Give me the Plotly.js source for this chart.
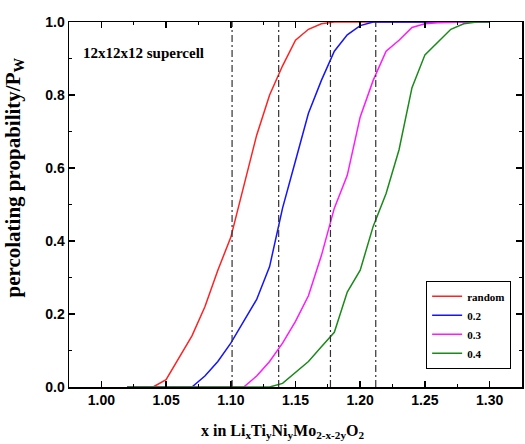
<!DOCTYPE html>
<html>
<head>
<meta charset="utf-8">
<script src="https://cdn.plot.ly/plotly-3.0.1.min.js"></script>
<style>html,body{margin:0;padding:0;background:#fff;}#chart{width:525px;height:444px;}</style>
</head>
<body>
<div id="chart"></div>
<script>
const xValues = [1.02,1.03,1.04,1.05,1.06,1.07,1.08,1.09,1.10,1.11,1.12,1.13,1.14,1.15,1.16,1.17,1.18,1.19,1.20,1.21,1.22,1.23,1.24,1.25,1.26,1.27,1.28,1.29,1.30];
const seriesNames = ["random","0.2","0.3","0.4"];
const randomVals = [0,0,0,0.02,0.08,0.14,0.22,0.32,0.41,0.55,0.69,0.80,0.88,0.95,0.98,0.995,1,1,1,1,1,1,1,1,1,1,1,1,1];
const y02Vals    = [0,0,0,0,0,0,0.03,0.07,0.12,0.18,0.24,0.33,0.49,0.62,0.75,0.84,0.92,0.965,0.99,1,1,1,1,1,1,1,1,1,1];
const y03Vals    = [0,0,0,0,0,0,0,0,0,0,0.03,0.07,0.12,0.18,0.25,0.36,0.49,0.58,0.74,0.84,0.92,0.95,0.985,0.995,0.998,1,1,1,1];
const y04Vals    = [0,0,0,0,0,0,0,0,0,0,0,0,0.01,0.04,0.07,0.11,0.15,0.26,0.32,0.44,0.53,0.65,0.82,0.91,0.945,0.98,0.995,1,1];
const thresholds = [1.101,1.137,1.177,1.212];
const xTickVals = [1.00,1.05,1.10,1.15,1.20,1.25,1.30];
const yTickVals = [0,0.2,0.4,0.6,0.8,1.0];

const colors = ["#ff2222","#1414ff","#ff19ff","#1a8a1a"];
const allVals = [randomVals,y02Vals,y03Vals,y04Vals];

const traces = allVals.map((v,i)=>({
  x: xValues, y: v, type:'scatter', mode:'lines', name: seriesNames[i],
  line:{color:colors[i], width:1.5}
}));

const shapes = thresholds.map(t=>({
  type:'line', xref:'x', yref:'y', x0:t, x1:t, y0:0, y1:1,
  line:{color:'#333', width:1.2, dash:'7px,3px,2px,3px'}
}));

const serif = 'Liberation Serif, Times New Roman, serif';
const sans = 'Liberation Sans, Arial, sans-serif';

const layout = {
  width:525, height:444,
  margin:{l:69, r:3, t:22, b:57},
  paper_bgcolor:'#fff', plot_bgcolor:'#fff',
  showlegend:true,
  legend:{x:0.976, xanchor:'right', y:0.05, yanchor:'bottom',
    bordercolor:'#000', borderwidth:1, bgcolor:'#fff',
    font:{family:serif, size:11, color:'#000', weight:'bold'},
    itemwidth:30},
  xaxis:{range:[0.975,1.325], tickvals:xTickVals, tickformat:'.2f',
    ticks:'inside', ticklen:6, tickwidth:1.5, tickcolor:'#000',
    minor:{dtick:0.025, tick0:1.0, ticks:'inside', ticklen:3, tickwidth:1.2, tickcolor:'#000'},
    showline:true, linecolor:'#000', linewidth:1.5, mirror:'ticks',
    showgrid:false, zeroline:false,
    tickfont:{family:sans, size:14, color:'#000', weight:'bold'}},
  yaxis:{range:[0,1], tickvals:yTickVals, tickformat:'.1f',
    ticks:'inside', ticklen:6, tickwidth:1.5, tickcolor:'#000',
    minor:{dtick:0.1, tick0:0, ticks:'inside', ticklen:3, tickwidth:1.2, tickcolor:'#000'},
    showline:true, linecolor:'#000', linewidth:1.5, mirror:'ticks',
    showgrid:false, zeroline:false,
    tickfont:{family:sans, size:14, color:'#000', weight:'bold'}},
  shapes: shapes,
  annotations:[
    {text:'12x12x12 supercell', xref:'paper', yref:'paper', x:0.0265, y:0.916,
     xanchor:'left', yanchor:'middle', showarrow:false,
     font:{family:serif, size:15, color:'#000', weight:'bold'}},
    {text:'x in Li<sub>x</sub>Ti<sub>y</sub>Ni<sub>y</sub>Mo<sub>2-x-2y</sub>O<sub>2</sub>',
     xref:'paper', yref:'paper', x:0.472, y:-0.122, xanchor:'center', yanchor:'middle',
     showarrow:false, font:{family:serif, size:16, color:'#000', weight:'bold'}},
    {text:'percolating propability/P<sub>W</sub>', textangle:-90,
     xref:'paper', yref:'paper', x:-0.1214, y:0.574, xanchor:'center', yanchor:'middle',
     showarrow:false, font:{family:serif, size:21, color:'#000', weight:'bold'}}
  ]
};

Plotly.newPlot('chart', traces, layout, {displayModeBar:false, staticPlot:true});
</script>
</body>
</html>
